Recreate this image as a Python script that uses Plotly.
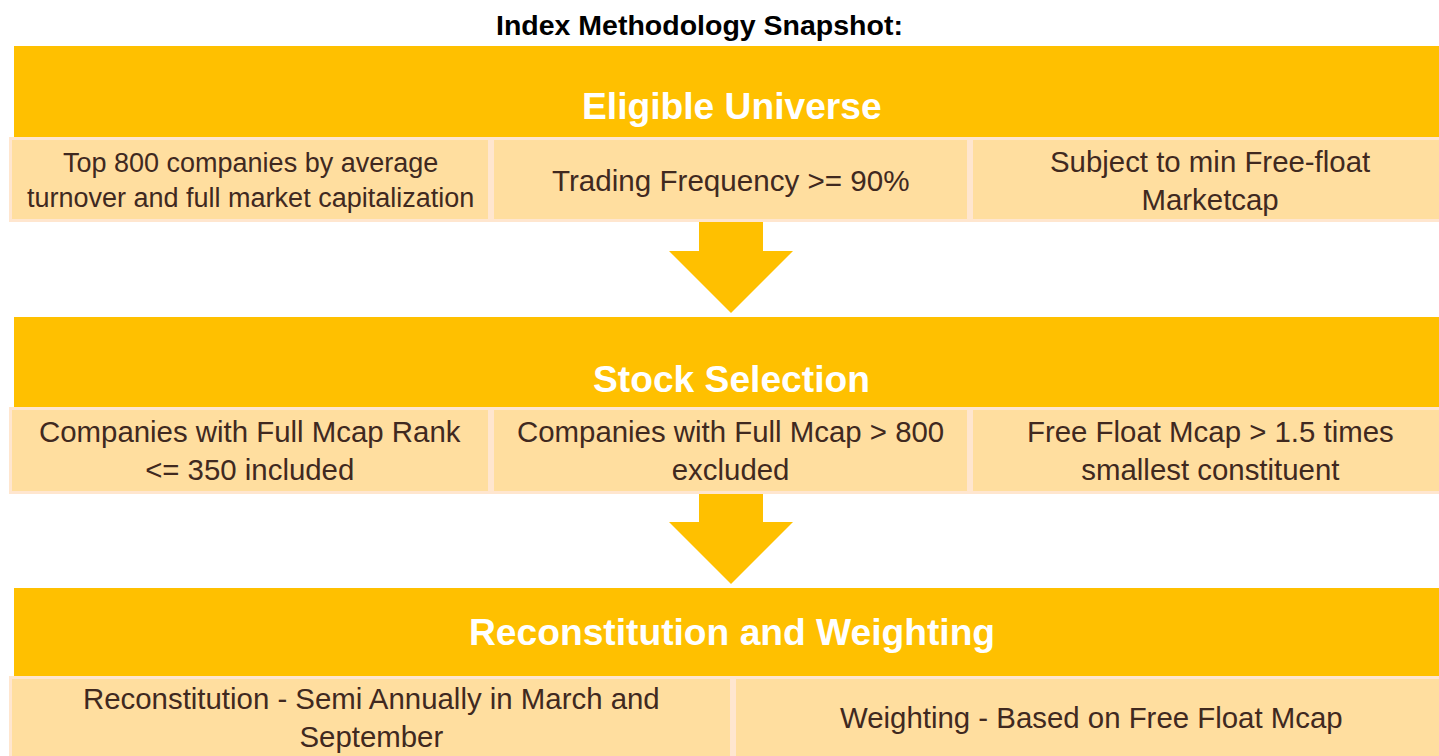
import plotly.graph_objects as go

# ---- content ----
title_text = "Index Methodology Snapshot:"
stages = ["Eligible Universe", "Stock Selection", "Reconstitution and Weighting"]
criteria_universe = [
    "Top 800 companies by average<br>turnover and full market capitalization",
    "Trading Frequency >= 90%",
    "Subject to min Free-float<br>Marketcap",
]
criteria_selection = [
    "Companies with Full Mcap Rank<br><= 350 included",
    "Companies with Full Mcap > 800<br>excluded",
    "Free Float Mcap > 1.5 times<br>smallest constituent",
]
criteria_weighting = [
    "Reconstitution - Semi Annually in March and<br>September",
    "Weighting - Based on Free Float Mcap",
]
criteria = [criteria_universe, criteria_selection, criteria_weighting]

# ---- layout constants ----
W, H = 1439, 756
GOLD = "#FFC000"
CELL_FILL = "#FFDE9F"
CELL_LINE = "#FFE6CF"
TEXT_DARK = "#40291F"
FONT = "Liberation Sans, Arial, sans-serif"

band_x0, band_x1 = 14, 1448
bands = [(46, 137), (317, 407), (588, 676)]
header_y = [106, 379, 632]
rows = [(137, 222), (407, 494), (676, 762)]
cell_y = [180, 450, 717]
cell_edges = [[9, 491, 970, 1450], [9, 491, 970, 1450], [9, 733, 1450]]
cell_fonts = [[27, 29.6, 29.4], [29.4, 29.4, 29.4], [29.4, 29.4]]
arrows = [(222, 251, 313), (494, 522, 584)]
arrow_cx, shaft_hw, head_hw = 731, 32, 62

shapes = []
annotations = []

annotations.append(dict(
    x=699, y=25, xref="x", yref="y", text="<b>" + title_text + "</b>",
    showarrow=False, xanchor="center", yanchor="middle",
    font=dict(family=FONT, size=28.5, color="#000000"),
))

for i, stage in enumerate(stages):
    y0, y1 = bands[i]
    shapes.append(dict(type="rect", xref="x", yref="y", x0=band_x0, x1=band_x1,
                       y0=y0, y1=y1, fillcolor=GOLD, line=dict(width=0), layer="below"))
    annotations.append(dict(
        x=731.5, y=header_y[i], xref="x", yref="y",
        text="<b>" + stage + "</b>", showarrow=False, xanchor="center", yanchor="middle",
        font=dict(family=FONT, size=37.2, color="#FFFFFF"),
    ))
    r0, r1 = rows[i]
    edges = cell_edges[i]
    for j, txt in enumerate(criteria[i]):
        cx0, cx1 = edges[j], edges[j + 1]
        shapes.append(dict(type="rect", xref="x", yref="y", x0=cx0 + 1.5, x1=cx1 - 1.5,
                           y0=r0 + 1.5, y1=r1 - 1.5, fillcolor=CELL_FILL,
                           line=dict(color=CELL_LINE, width=3), layer="below"))
        annotations.append(dict(
            x=(cx0 + cx1) / 2, y=cell_y[i], xref="x", yref="y", text=txt,
            showarrow=False, xanchor="center", yanchor="middle", align="center",
            font=dict(family=FONT, size=cell_fonts[i][j], color=TEXT_DARK),
        ))

for (ys, yh, yt) in arrows:
    path = (f"M {arrow_cx - shaft_hw},{ys} L {arrow_cx + shaft_hw},{ys} "
            f"L {arrow_cx + shaft_hw},{yh} L {arrow_cx + head_hw},{yh} "
            f"L {arrow_cx},{yt} L {arrow_cx - head_hw},{yh} "
            f"L {arrow_cx - shaft_hw},{yh} Z")
    shapes.append(dict(type="path", xref="x", yref="y", path=path,
                       fillcolor=GOLD, line=dict(width=0), layer="below"))

fig = go.Figure()
fig.add_trace(go.Scatter(x=[0, W], y=[0, H], mode="markers",
                         marker=dict(opacity=0), hoverinfo="skip", showlegend=False))
fig.update_layout(
    width=W, height=H, margin=dict(l=0, r=0, t=0, b=0),
    paper_bgcolor="#FFFFFF", plot_bgcolor="#FFFFFF",
    xaxis=dict(range=[0, W], visible=False, fixedrange=True),
    yaxis=dict(range=[H, 0], visible=False, fixedrange=True),
    shapes=shapes, annotations=annotations, showlegend=False,
)
fig.write_html(
    "out.html",
    config={"displayModeBar": False},
    post_script="document.body.style.margin='0px';document.body.style.overflow='hidden';",
)
